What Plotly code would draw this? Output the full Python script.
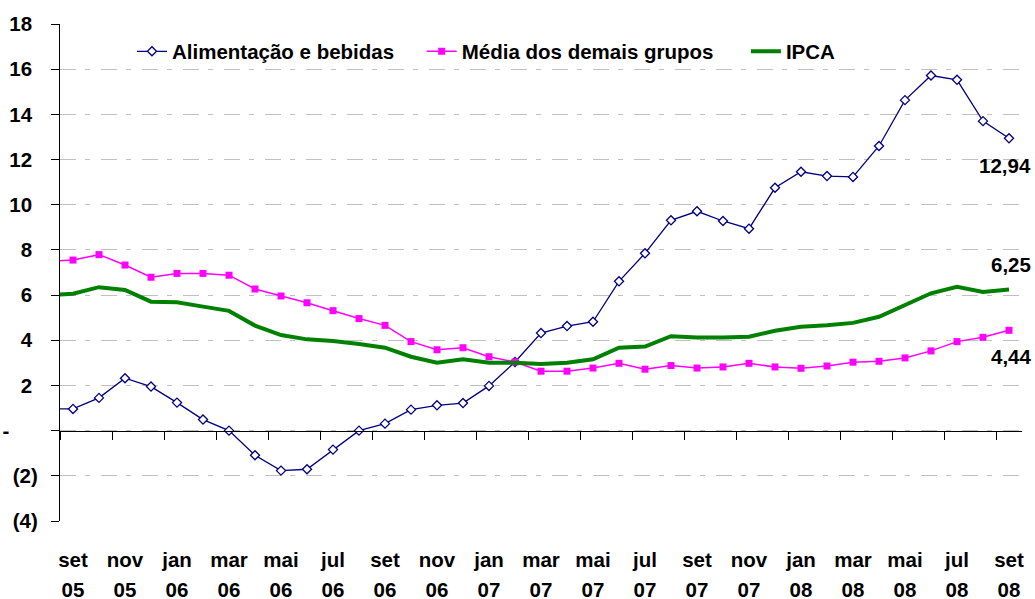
import plotly.graph_objects as go

# ---- data ----
months = ["ago 05", "set 05", "out 05", "nov 05", "dez 05",
          "jan 06", "fev 06", "mar 06", "abr 06", "mai 06", "jun 06", "jul 06", "ago 06",
          "set 06", "out 06", "nov 06", "dez 06",
          "jan 07", "fev 07", "mar 07", "abr 07", "mai 07", "jun 07", "jul 07", "ago 07",
          "set 07", "out 07", "nov 07", "dez 07",
          "jan 08", "fev 08", "mar 08", "abr 08", "mai 08", "jun 08", "jul 08", "ago 08",
          "set 08"]

alimentacao = [0.96, 0.96, 1.45, 2.32, 1.95, 1.24, 0.49, 0.00, -1.09, -1.77, -1.71, -0.84, 0.00,
               0.31, 0.93, 1.12, 1.22, 1.98, 3.04, 4.32, 4.63, 4.82, 6.61, 7.85, 9.31,
               9.71, 9.28, 8.94, 10.75, 11.46, 11.27, 11.23, 12.60, 14.63, 15.72, 15.53, 13.70,
               12.94]

media_demais = [7.50, 7.55, 7.79, 7.33, 6.79, 6.96, 6.96, 6.88, 6.27, 5.96, 5.66, 5.31, 4.96,
                4.66, 3.94, 3.58, 3.67, 3.27, 3.04, 2.63, 2.63, 2.77, 2.98, 2.72, 2.88,
                2.77, 2.82, 2.98, 2.82, 2.76, 2.86, 3.03, 3.07, 3.22, 3.53, 3.94, 4.13,
                4.44]

ipca = [6.00, 6.06, 6.35, 6.23, 5.71, 5.68, 5.49, 5.30, 4.65, 4.23, 4.04, 3.97, 3.83,
        3.67, 3.27, 3.01, 3.16, 3.01, 3.01, 2.95, 3.01, 3.16, 3.67, 3.72, 4.18,
        4.12, 4.12, 4.16, 4.42, 4.60, 4.66, 4.77, 5.04, 5.56, 6.08, 6.37, 6.14,
        6.25]

series_names = ["Alimentação e bebidas", "Média dos demais grupos", "IPCA"]

y_tickvals = [-4, -2, 0, 2, 4, 6, 8, 10, 12, 14, 16, 18]
y_ticktext = ["(4)", "(2)", "-\u00a0\u00a0\u00a0\u00a0\u00a0", "2\u00a0", "4\u00a0", "6\u00a0",
              "8\u00a0", "10\u00a0", "12\u00a0", "14\u00a0", "16\u00a0", "18\u00a0"]

# ---- figure ----
FONT = "Liberation Sans, Arial, sans-serif"
FS = 20.5
x = list(range(len(months)))

label_idx = list(range(1, len(months), 2))
month_text = [months[i].split(" ")[0] for i in label_idx]
year_text = [months[i].split(" ")[1] for i in label_idx]

fig = go.Figure()
fig.add_trace(go.Scatter(
    x=x, y=alimentacao, name=series_names[0], mode="lines+markers", legend="legend",
    line=dict(color="#000080", width=1.3),
    marker=dict(symbol="diamond", size=7, color="white", line=dict(color="#000080", width=1.3)),
))
fig.add_trace(go.Scatter(
    x=x, y=media_demais, name=series_names[1], mode="lines+markers", legend="legend2",
    line=dict(color="#FF00FF", width=1.5),
    marker=dict(symbol="square", size=7, color="#FF00FF"),
))
fig.add_trace(go.Scatter(
    x=x, y=ipca, name=series_names[2], mode="lines", legend="legend3",
    line=dict(color="#008000", width=4),
))
# helper traces for the extra axes (zero-line axis and year labels)
fig.add_trace(go.Scatter(x=[None], y=[None], xaxis="x2", showlegend=False, hoverinfo="skip"))
fig.add_trace(go.Scatter(x=[None], y=[None], xaxis="x3", showlegend=False, hoverinfo="skip"))

last = len(months) - 1
for vals, yshift in [(alimentacao, -27), (ipca, 25), (media_demais, -26)]:
    fig.add_annotation(
        x=x[last], y=vals[last], text=f"{vals[last]:.2f}".replace(".", ","),
        showarrow=False, xanchor="right", yanchor="middle", xshift=24, yshift=yshift,
        font=dict(family=FONT, size=FS, color="black", weight="bold"),
    )

legend_common = dict(orientation="h", y=0.985, xanchor="left", yanchor="top",
                     bgcolor="rgba(0,0,0,0)", itemwidth=30,
                     font=dict(family=FONT, size=FS, color="black", weight="bold"))

tickfont = dict(family=FONT, size=FS, color="black", weight="bold")

fig.update_layout(
    width=1035, height=599,
    margin=dict(l=60, r=13, t=24, b=78, autoexpand=False),
    paper_bgcolor="white", plot_bgcolor="white",
    showlegend=True,
    legend=dict(x=0.0748, **legend_common),
    legend2=dict(x=0.376, **legend_common),
    legend3=dict(x=0.713, **legend_common),
    xaxis=dict(range=[0.5, len(months) - 0.5], showgrid=False, zeroline=False, showline=False,
               automargin=False,
               ticks="", tickmode="array", tickvals=label_idx, ticktext=month_text,
               ticklabelstandoff=24, tickfont=tickfont),
    xaxis3=dict(overlaying="x", anchor="y", side="bottom", matches="x", automargin=False,
                showgrid=False, zeroline=False, showline=False,
                ticks="", tickmode="array", tickvals=label_idx, ticktext=year_text,
                ticklabelstandoff=54, tickfont=tickfont),
    xaxis2=dict(overlaying="x", anchor="free", position=4 / 22, matches="x", automargin=False,
                showgrid=False, zeroline=False, showline=True, linecolor="black", linewidth=1.2,
                ticks="outside", ticklen=8, tickcolor="black", tickwidth=1.2,
                tickmode="linear", tick0=0.5, dtick=2, showticklabels=False),
    yaxis=dict(range=[-4, 18], showline=True, linecolor="black", linewidth=1.2, automargin=False,
               ticks="outside", ticklen=8, tickcolor="black", tickwidth=1.2,
               showgrid=True, gridcolor="#c0c0c0", gridwidth=1, griddash="16px,9px,5px,11px",
               zeroline=False, tickmode="array", tickvals=y_tickvals, ticktext=y_ticktext,
               ticklabelstandoff=9, tickfont=tickfont),
)

fig.write_html("out.html", config={"displayModeBar": False},
               post_script="document.body.style.margin='0';")
